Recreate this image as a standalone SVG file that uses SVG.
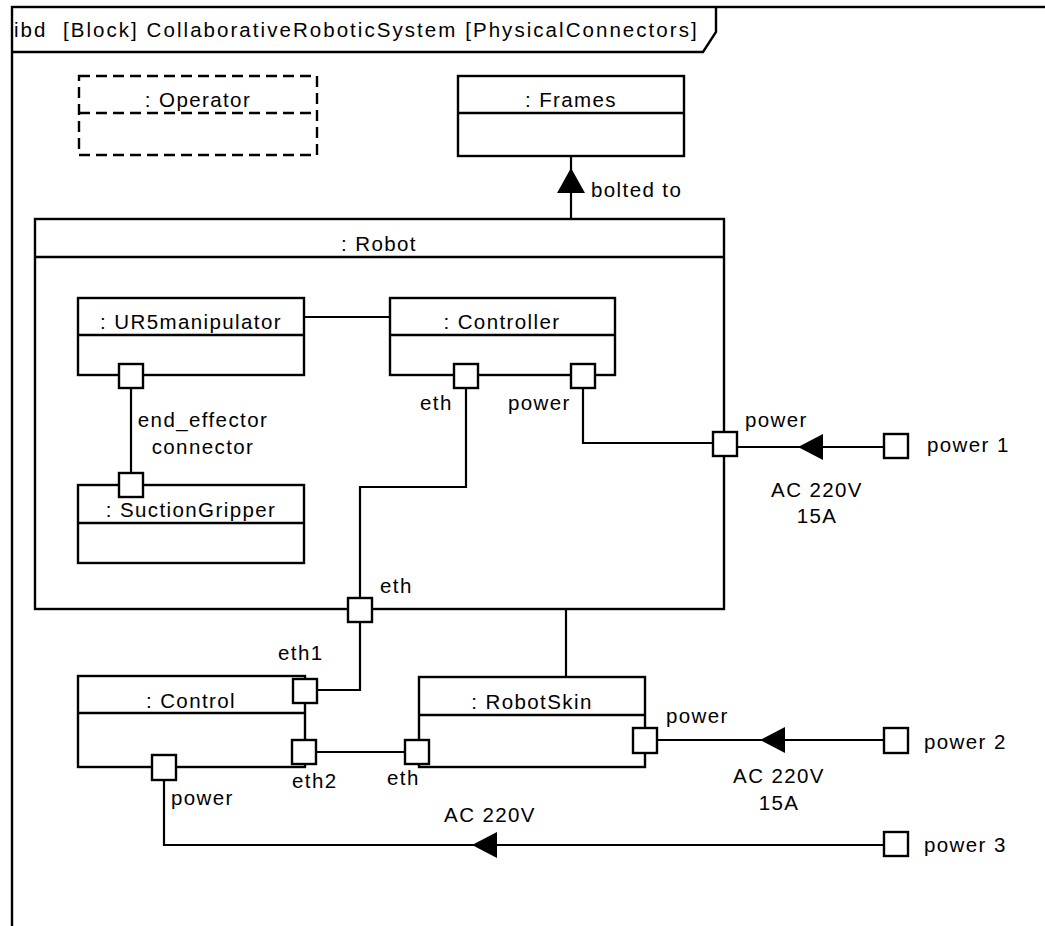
<svg xmlns="http://www.w3.org/2000/svg" width="1045" height="926" viewBox="0 0 1045 926">
  <style>
    text { font-family: "Liberation Sans", Arial, sans-serif; font-size: 20.5px; letter-spacing: 1.4px; fill: #000; }
    .mid { text-anchor: middle; }
    .box { fill: #fff; stroke: #000; stroke-width: 2.4; }
    .sep { stroke: #000; stroke-width: 2.4; fill: none; }
    .dash { fill: none; stroke: #000; stroke-width: 2.4; stroke-dasharray: 11 6; }
    .wire { fill: none; stroke: #000; stroke-width: 2.2; }
    .port { fill: #fff; stroke: #000; stroke-width: 2.4; }
    .head { fill: #000; stroke: none; }
  </style>

  <rect x="0" y="0" width="1045" height="926" fill="#fff"/>

  <!-- diagram frame with name tab -->
  <g id="frame">
    <rect x="12" y="7" width="1100" height="1000" fill="none" stroke="#000" stroke-width="2.4"/>
    <path d="M12 52 H703 L716 32 V7" fill="none" stroke="#000" stroke-width="2.4"/>
    <text x="14" y="37" xml:space="preserve" style="letter-spacing:2.05px">ibd  [Block] CollaborativeRoboticSystem [PhysicalConnectors]</text>
  </g>

  <!-- connectors -->
  <g id="connectors">
    <!-- bolted to -->
    <line class="wire" x1="571" y1="156" x2="571" y2="219"/>
    <polygon class="head" points="571,168 585,193 557,193"/>
    <text x="591" y="197">bolted to</text>

    <!-- UR5manipulator to Controller -->
    <line class="wire" x1="304" y1="317" x2="390" y2="317"/>

    <!-- end effector connector -->
    <line class="wire" x1="131" y1="388" x2="131" y2="473"/>
    <text class="mid" x="203" y="427">end_effector</text>
    <text class="mid" x="203" y="454">connector</text>

    <!-- Controller eth to Robot eth -->
    <polyline class="wire" points="466,388 466,487 360,487 360,598"/>
    <!-- Controller power to Robot power -->
    <polyline class="wire" points="583,388 583,443 713,443"/>

    <!-- power 1 supply -->
    <line class="wire" x1="737" y1="447" x2="884" y2="447"/>
    <polygon class="head" points="798,447 823,434 823,460"/>
    <text class="mid" x="817" y="497">AC 220V</text>
    <text class="mid" x="817" y="523">15A</text>

    <!-- Robot eth to Control eth1 -->
    <polyline class="wire" points="360,622 360,690 317,690"/>

    <!-- Robot to RobotSkin -->
    <line class="wire" x1="566" y1="609" x2="566" y2="677"/>

    <!-- Control eth2 to RobotSkin eth -->
    <line class="wire" x1="316" y1="752" x2="407" y2="752"/>

    <!-- power 2 supply -->
    <line class="wire" x1="657" y1="740" x2="884" y2="740"/>
    <polygon class="head" points="760,740 785,727 785,753"/>
    <text class="mid" x="779" y="783">AC 220V</text>
    <text class="mid" x="779" y="810">15A</text>

    <!-- power 3 supply -->
    <polyline class="wire" points="164,780 164,845 884,845"/>
    <polygon class="head" points="472,845 497,832 497,858"/>
    <text class="mid" x="490" y="822">AC 220V</text>
  </g>

  <g id="operator">
    <rect class="dash" x="79" y="76" width="238" height="79"/>
    <line class="dash" x1="79" y1="113" x2="317" y2="113"/>
    <text class="mid" x="198" y="107">: Operator</text>
  </g>

  <g id="frames">
    <rect class="box" x="458" y="76" width="226" height="80"/>
    <line class="sep" x1="458" y1="113" x2="684" y2="113"/>
    <text class="mid" x="571" y="107">: Frames</text>
  </g>

  <g id="robot">
    <rect class="box" x="35" y="219" width="689" height="390" style="fill:none"/>
    <line class="sep" x1="35" y1="257" x2="724" y2="257"/>
    <text class="mid" x="379" y="251">: Robot</text>
    <rect class="port" x="713" y="432" width="24" height="24"/>
    <text x="745" y="427">power</text>
    <rect class="port" x="348" y="598" width="24" height="24"/>
    <text x="380" y="593">eth</text>
  </g>

  <g id="ur5manipulator">
    <rect class="box" x="78" y="298" width="226" height="77"/>
    <line class="sep" x1="78" y1="335" x2="304" y2="335"/>
    <text class="mid" x="191" y="329">: UR5manipulator</text>
    <rect class="port" x="119" y="364" width="24" height="24"/>
  </g>

  <g id="controller">
    <rect class="box" x="390" y="298" width="225" height="77"/>
    <line class="sep" x1="390" y1="335" x2="615" y2="335"/>
    <text class="mid" x="502" y="329">: Controller</text>
    <rect class="port" x="454" y="364" width="24" height="24"/>
    <text x="420" y="410">eth</text>
    <rect class="port" x="571" y="364" width="24" height="24"/>
    <text x="508" y="410">power</text>
  </g>

  <g id="suctiongripper">
    <rect class="box" x="78" y="485" width="226" height="78"/>
    <line class="sep" x1="78" y1="523" x2="304" y2="523"/>
    <text class="mid" x="191" y="517">: SuctionGripper</text>
    <rect class="port" x="119" y="473" width="24" height="24"/>
  </g>

  <g id="control">
    <rect class="box" x="78" y="676" width="227" height="91"/>
    <line class="sep" x1="78" y1="713" x2="305" y2="713"/>
    <text class="mid" x="191" y="708">: Control</text>
    <rect class="port" x="293" y="679" width="24" height="24"/>
    <text x="278" y="660">eth1</text>
    <rect class="port" x="292" y="740" width="24" height="24"/>
    <text x="292" y="788">eth2</text>
    <rect class="port" x="152" y="755" width="24" height="25"/>
    <text x="171" y="805">power</text>
  </g>

  <g id="robotskin">
    <rect class="box" x="419" y="677" width="226" height="90"/>
    <line class="sep" x1="419" y1="715" x2="645" y2="715"/>
    <text class="mid" x="532" y="709">: RobotSkin</text>
    <rect class="port" x="405" y="740" width="24" height="24"/>
    <text x="387" y="785">eth</text>
    <rect class="port" x="633" y="728" width="24" height="25"/>
    <text x="666" y="723">power</text>
  </g>

  <g id="power1">
    <rect class="port" x="884" y="434" width="24" height="24"/>
    <text x="927" y="452">power 1</text>
  </g>

  <g id="power2">
    <rect class="port" x="884" y="728" width="24" height="25"/>
    <text x="924" y="749">power 2</text>
  </g>

  <g id="power3">
    <rect class="port" x="884" y="832" width="24" height="24"/>
    <text x="924" y="852">power 3</text>
  </g>
</svg>
